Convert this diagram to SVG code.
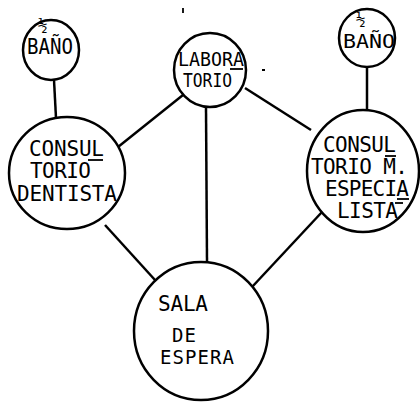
<svg xmlns="http://www.w3.org/2000/svg" width="420" height="402" viewBox="0 0 420 402">
<style>
.c{fill:none;stroke:#000;stroke-width:2.5}
.l{stroke:#000;stroke-width:2.5;fill:none}
.m{stroke:#000;stroke-width:1.8;fill:none}
.t{font-family:"DejaVu Sans Mono","Liberation Mono",monospace;font-size:21px;fill:#000}
.s{font-family:"DejaVu Sans Mono","Liberation Mono",monospace;font-size:19px;fill:#000}
.f{font-family:"DejaVu Sans Mono","Liberation Mono",monospace;font-size:16px;fill:#000}
</style>
<rect width="420" height="402" fill="#fff"/>
<g id="connectors">
<line class="l" x1="54" y1="80" x2="56" y2="118"/>
<line class="l" x1="367" y1="67" x2="367" y2="110"/>
<line class="l" x1="183" y1="95" x2="118" y2="147"/>
<line class="l" x1="206" y1="108" x2="207" y2="262"/>
<line class="l" x1="245" y1="88" x2="311" y2="130"/>
<line class="l" x1="105" y1="225" x2="155" y2="280"/>
<line class="l" x1="322" y1="212" x2="252" y2="287"/>
</g>
<g id="bano-left">
<ellipse class="c" cx="51" cy="50" rx="28" ry="30"/>
<text class="t" x="27" y="54" textLength="46" lengthAdjust="spacingAndGlyphs">BAÑO</text>
<text class="f" x="38" y="31">½</text>
</g>
<g id="laboratorio">
<ellipse class="c" cx="210" cy="70" rx="36" ry="37"/>
<text class="s" x="178" y="66" textLength="66" lengthAdjust="spacingAndGlyphs">LABORA</text>
<text class="s" x="183" y="87" textLength="49" lengthAdjust="spacingAndGlyphs">TORIO</text>
<line class="m" x1="230" y1="69" x2="243" y2="69"/>
</g>
<g id="bano-right">
<ellipse class="c" cx="367" cy="38" rx="28" ry="29"/>
<text class="s" x="343" y="48" textLength="52" lengthAdjust="spacingAndGlyphs">BAÑO</text>
<text class="f" x="356" y="25">½</text>
</g>
<g id="consultorio-dentista">
<ellipse class="c" cx="67" cy="173" rx="58" ry="56"/>
<text class="t" x="29" y="156" textLength="75" lengthAdjust="spacing">CONSUL</text>
<line class="m" x1="88" y1="160" x2="103" y2="160"/>
<text class="t" x="30" y="178" textLength="61" lengthAdjust="spacing">TORIO</text>
<text class="t" x="17" y="201" textLength="100" lengthAdjust="spacing">DENTISTA</text>
</g>
<g id="consultorio-especialista">
<ellipse class="c" cx="363" cy="171" rx="56" ry="61"/>
<text class="t" x="323" y="152" textLength="73" lengthAdjust="spacing">CONSUL</text>
<line class="m" x1="385" y1="156" x2="396" y2="156"/>
<text class="t" x="311" y="174" textLength="97" lengthAdjust="spacing">TORIO M.</text>
<text class="t" x="325" y="196" textLength="84" lengthAdjust="spacing">ESPECIA</text>
<line class="m" x1="397" y1="199" x2="409" y2="199"/>
<text class="t" x="337" y="218" textLength="61" lengthAdjust="spacing">LISTA</text>
<line class="m" x1="395" y1="203" x2="403" y2="203"/>
</g>
<g id="sala-de-espera">
<ellipse class="c" cx="201" cy="331" rx="67" ry="69"/>
<text class="t" x="158" y="311" textLength="50" lengthAdjust="spacing">SALA</text>
<text class="s" x="172" y="342" textLength="24" lengthAdjust="spacing">DE</text>
<text class="s" x="160" y="364" textLength="74" lengthAdjust="spacing">ESPERA</text>
</g>
<g id="marks">
<line class="m" x1="183" y1="8" x2="183" y2="13"/>
<rect x="262" y="69" width="3" height="2" fill="#000"/>
</g>
</svg>
